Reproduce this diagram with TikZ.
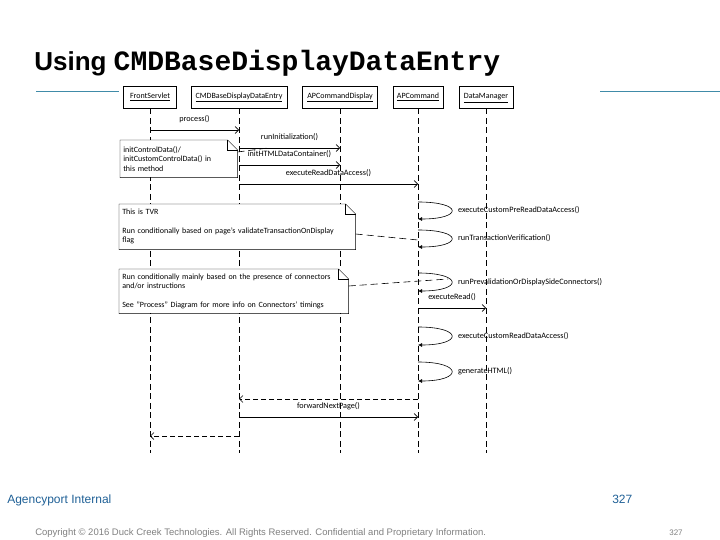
\documentclass[tikz,border=0pt]{standalone}
\usepackage{fontspec}
\setmainfont{Carlito}
\newfontfamily\slidefont{Liberation Sans}
\newfontfamily\codefont{Liberation Mono}
\usepackage{xcolor}
\definecolor{slideblue}{RGB}{31,96,150}
\definecolor{ruleblue}{RGB}{64,139,168}
\usepackage{tikz}
\usetikzlibrary{arrows.meta,positioning,calc}
\newcommand{\sendmsg}[4]{\draw[->] (#1 |- 0,#3) -- node[msgtext,above=6pt] {#4} (#2 |- 0,#3)}
\newcommand{\retmsg}[3]{\draw[->,retline] (#1 |- 0,#3) -- (#2 |- 0,#3)}
\newcommand{\selfmsg}[3]{\draw[-{Latex[length=4pt,width=4pt]}] (AC |- 0,#1) .. controls +(45,0) and +(45,0) .. node[msgtext,right=5pt] {#3} (AC |- 0,#2)}
\newcommand{\fold}[1]{\draw[thin] (#1.north west) -- ([xshift=-10pt]#1.north east) -- ([yshift=-10pt]#1.north east) -- (#1.south east) -- (#1.south west) -- cycle;
  \draw[thin] ([xshift=-10pt]#1.north east) -- ([xshift=-10pt,yshift=-10pt]#1.north east) -- ([yshift=-10pt]#1.north east)}

\begin{document}
\begin{tikzpicture}[
      x=1pt,y=-1pt,
      >={Straight Barb[length=3.5pt,width=7pt]},
      line width=0.6pt,
      object/.style={rectangle,draw,minimum height=22pt,inner xsep=3pt,text height=6pt,text depth=2pt,font=\fontsize{8}{9}\selectfont},
      life/.style={dash pattern=on 6pt off 3.5pt},
      retline/.style={dash pattern=on 5pt off 3pt},
      note/.style={rectangle,fill=white,align=left,inner xsep=3pt,inner ysep=2pt,anchor=north west,font=\fontsize{8}{9.5}\selectfont},
      conn/.style={dash pattern=on 7pt off 4pt},
      msgtext/.style={inner sep=1pt,font=\fontsize{8.2}{9}\selectfont}]
      \useasboundingbox (0,0) rectangle (720,540);

      % Title and slide rules
      \node[anchor=base west,inner sep=0pt] (T) at (34,71) {{\slidefont\bfseries\fontsize{26}{28}\selectfont Using\ }{\codefont\bfseries\fontsize{28}{30}\selectfont CMDBaseDisplayDataEntry}};
      \draw[ruleblue,line width=1pt] (36,91.5) -- (119,91.5);
      \draw[ruleblue,line width=1pt] (600,91.5) -- (720,91.5);

      % Define nodes
      \node[object,minimum width=53pt] (FS) at (150,97) {\underline{FrontServlet}};
      \node[object,minimum width=96pt] (CD) at (239,97) {\underline{CMDBaseDisplayDataEntry}};
      \node[object,minimum width=75pt] (AD) at (340,97) {\underline{APCommandDisplay}};
      \node[object,minimum width=50pt] (AC) at (418,97) {\underline{APCommand}};
      \node[object,minimum width=54pt] (DM) at (486,97) {\underline{DataManager}};

      % Lifelines
      \foreach \n in {FS,CD,AD,AC,DM}
        \draw[life] (\n.south) -- (\n |- 0,453);

      % Notes
      \node[note,text width=111pt,minimum height=37pt] (N1) at (120,140) {initControlData()/\\initCustomControlData() in\\this method};
      \fold{N1};
      \node[note,text width=230pt,minimum height=45pt] (N2) at (119,204) {This is TVR\\[9pt]Run conditionally based on page's validateTransactionOnDisplay\\flag};
      \fold{N2};
      \node[note,text width=223pt,minimum height=44pt] (N3) at (119,269) {Run conditionally mainly based on the presence of connectors\\and/or instructions\\[9pt]See "Process" Diagram for more info on Connectors' timings};
      \fold{N3};
      \coordinate (C1) at (268,148);
      \coordinate (C2) at (418,240);
      \coordinate (C3) at (448,279);

      % Draw paths
      \sendmsg{FS}{CD}{130}{process()};
      \sendmsg{CD}{AD}{148}{runInitialization()};
      \sendmsg{CD}{AD}{165}{initHTMLDataContainer()};
      \sendmsg{CD}{AC}{184}{executeReadDataAccess()};
      \selfmsg{202}{219}{executeCustomPreReadDataAccess()};
      \selfmsg{230}{247}{runTransactionVerification()};
      \selfmsg{273}{291}{runPrevalidationOrDisplaySideConnectors()};
      \sendmsg{AC}{DM}{308}{executeRead()};
      \selfmsg{327}{345}{executeCustomReadDataAccess()};
      \selfmsg{362}{381}{generateHTML()};
      \retmsg{AC}{CD}{399};
      \sendmsg{CD}{AC}{417}{forwardNextPage()};
      \retmsg{CD}{FS}{436};
      \draw[conn] (N1.east |- 0,152) -- (C1);
      \draw[conn] (N2.east |- 0,234) -- (C2);
      \draw[conn] (N3.east |- 0,286) -- (C3);

      % Footer
      \node[anchor=base west,inner sep=0pt,slideblue,font=\slidefont\fontsize{12}{14}\selectfont] (F1) at (7,503) {Agencyport Internal};
      \node[anchor=base west,inner sep=0pt,slideblue,font=\slidefont\fontsize{12}{14}\selectfont] (F2) at (612,503) {327};
      \node[anchor=base west,inner sep=0pt,black!50,font=\slidefont\fontsize{9.5}{10}\selectfont] (F3) at (35,535) {Copyright © 2016 Duck Creek Technologies. All Rights Reserved. Confidential and Proprietary Information.};
      \node[anchor=base west,inner sep=0pt,black!50,font=\slidefont\fontsize{8}{9}\selectfont] (F4) at (669,535) {327};
  \end{tikzpicture}
\end{document}
